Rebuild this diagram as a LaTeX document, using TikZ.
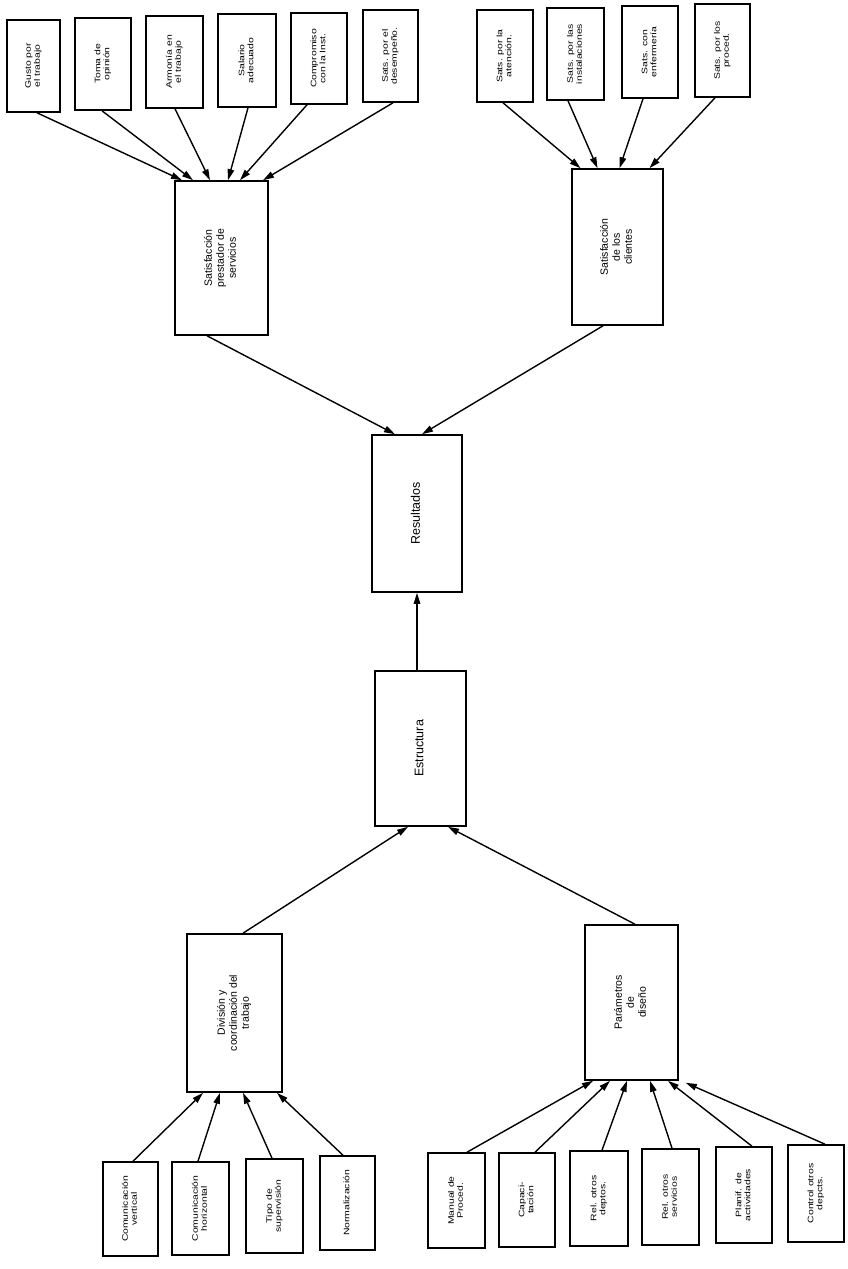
\documentclass[tikz,border=0pt]{standalone}
\usepackage{fontspec}
\setmainfont{Liberation Sans}
\usetikzlibrary{arrows.meta,calc}
% text that reads from bottom to top, optionally stretched along the reading direction
\newcommand\vtext[2][1]{\rotatebox{90}{\scalebox{#1}[1]{\begin{tabular}{@{}c@{}}#2\end{tabular}}}}
\tikzset{
  box/.style={draw, rectangle, line width=1.6pt, inner sep=0pt},
  small/.style={box, font=\fontsize{8}{9}\selectfont},
  big/.style={box, font=\fontsize{10.5}{12}\selectfont},
  huge/.style={box, font=\fontsize{12.5}{14}\selectfont},
  link/.style={line width=1.4pt, -{Triangle[length=11pt,width=6.5pt]}}
}
\begin{document}
\begin{tikzpicture}[x=1pt,y=-1pt]
\useasboundingbox (0,0) rectangle (847,1269);

% factors of staff satisfaction
\node[small, minimum width=53pt, minimum height=92pt] (g1) at (33.5,66) {\vtext[1.3]{Gusto por\\el trabajo}};
\node[small, minimum width=56pt, minimum height=92pt] (g2) at (103,64) {\vtext[1.3]{Toma de\\opinión}};
\node[small, minimum width=57pt, minimum height=92pt] (g3) at (174.5,62) {\vtext[1.3]{Armonía en\\el trabajo}};
\node[small, minimum width=58pt, minimum height=93pt] (g4) at (247,60.5) {\vtext[1.3]{Salario\\adecuado}};
\node[small, minimum width=56pt, minimum height=91pt] (g5) at (319,58.5) {\vtext[1.3]{Compromiso\\con la Inst.}};
\node[small, minimum width=55pt, minimum height=92pt] (g6) at (390.5,56) {\vtext[1.3]{Sats. por el\\desempeño.}};

% factors of client satisfaction
\node[small, minimum width=56pt, minimum height=92pt] (h1) at (505,56) {\vtext[1.3]{Sats. por la\\atención.}};
\node[small, minimum width=57pt, minimum height=92pt] (h2) at (575.5,54) {\vtext[1.3]{Sats. por las\\instalaciones}};
\node[small, minimum width=56pt, minimum height=92pt] (h3) at (650,52) {\vtext[1.3]{Sats. con\\enfermería}};
\node[small, minimum width=55pt, minimum height=93pt] (h4) at (722.5,50.5) {\vtext[1.3]{Sats. por los\\proced.}};

% main blocks
\node[big, minimum width=93pt, minimum height=154pt] (sp) at (221.5,258) {\vtext{Satisfacción\\prestador de\\servicios}};
\node[big, minimum width=91pt, minimum height=156pt] (sc) at (617.5,247) {\vtext{Satisfacción\\de los\\clientes}};
\node[huge, minimum width=90pt, minimum height=157pt] (res) at (417,513.5) {\vtext{Resultados}};
\node[huge, minimum width=91pt, minimum height=155pt] (est) at (420.5,748.5) {\vtext{Estructura}};
\node[big, minimum width=95pt, minimum height=158pt] (div) at (234.5,1013) {\vtext{División y\\coordinación del\\trabajo}};
\node[big, minimum width=93pt, minimum height=155pt] (par) at (631.5,1002.5) {\vtext{Parámetros\\de\\diseño}};

% factors of work division
\node[small, minimum width=55pt, minimum height=94pt] (b1) at (130.5,1209) {\vtext[1.3]{Comunicación\\vertical}};
\node[small, minimum width=57pt, minimum height=93pt] (b2) at (200.5,1208.5) {\vtext[1.3]{Comunicación\\horizontal}};
\node[small, minimum width=57pt, minimum height=94pt] (b3) at (274.5,1206) {\vtext[1.3]{Tipo de\\supervisión}};
\node[small, minimum width=55pt, minimum height=94pt] (b4) at (347.5,1203) {\vtext[1.3]{Normalización}};

% design parameters
\node[small, minimum width=57pt, minimum height=95pt] (c1) at (456.5,1200.5) {\vtext[1.3]{Manual de\\Proced.}};
\node[small, minimum width=56pt, minimum height=94pt] (c2) at (527,1200) {\vtext[1.3]{Capaci-\\tación}};
\node[small, minimum width=58pt, minimum height=95pt] (c3) at (599,1198.5) {\vtext[1.3]{Rel. otros\\deptos.}};
\node[small, minimum width=57pt, minimum height=96pt] (c4) at (670.5,1197) {\vtext[1.3]{Rel. otros\\servicios}};
\node[small, minimum width=56pt, minimum height=96pt] (c5) at (744,1195) {\vtext[1.3]{Planif. de\\actividades}};
\node[small, minimum width=56pt, minimum height=97pt] (c6) at (816,1193.5) {\vtext[1.3]{Control otros\\depcts.}};

% into staff satisfaction
\draw[link] ($(g1.south)+(3.5,0)$) -- ($(sp.north)+(-39.5,0)$);
\draw[link] ($(g2.south)+(-1,0)$) -- ($(sp.north)+(-28.5,0)$);
\draw[link] ($(g3.south)+(0.5,0)$) -- ($(sp.north)+(-11.5,0)$);
\draw[link] ($(g4.south)+(1,0)$) -- ($(sp.north)+(6.5,0)$);
\draw[link] ($(g5.south)+(-12,0)$) -- ($(sp.north)+(18.5,0)$);
\draw[link] ($(g6.south)+(2.5,0)$) -- ($(sp.north)+(41.5,0)$);

% into client satisfaction
\draw[link] ($(h1.south)+(-2,0)$) -- ($(sc.north)+(-37,0)$);
\draw[link] ($(h2.south)+(-7.5,0)$) -- ($(sc.north)+(-20,0)$);
\draw[link] ($(h3.south)+(-7,0)$) -- ($(sc.north)+(2,0)$);
\draw[link] ($(h4.south)+(-7.5,0)$) -- ($(sc.north)+(32,0)$);

% into results
\draw[link] ($(sp.south)+(-14.5,0)$) -- ($(res.north)+(-22,0)$);
\draw[link] ($(sc.south)+(-14.5,0)$) -- ($(res.north)+(5,0)$);
\draw[link] ($(est.north)+(-3.5,0)$) -- (res.south);

% into structure
\draw[link] ($(div.north)+(8.5,0)$) -- ($(est.south)+(-12.5,0)$);
\draw[link] ($(par.north)+(3.5,0)$) -- ($(est.south)+(27.5,0)$);

% into work division
\draw[link] ($(b1.north)+(2.5,0)$) -- ($(div.south)+(-31.5,0)$);
\draw[link] ($(b2.north)+(-2.5,0)$) -- ($(div.south)+(-14.5,0)$);
\draw[link] ($(b3.north)+(-2.5,0)$) -- ($(div.south)+(8.5,0)$);
\draw[link] ($(b4.north)+(-4.5,0)$) -- ($(div.south)+(42.5,0)$);

% into design parameters
\draw[link] ($(c1.north)+(10.5,0)$) -- ($(par.south)+(-38.5,0)$);
\draw[link] ($(c2.north)+(8,0)$) -- ($(par.south)+(-21.5,0)$);
\draw[link] ($(c3.north)+(3,0)$) -- ($(par.south)+(-4.5,0)$);
\draw[link] ($(c4.north)+(1.5,0)$) -- ($(par.south)+(18.5,0)$);
\draw[link] ($(c5.north)+(8,0)$) -- ($(par.south)+(36.5,0)$);
\draw[link] ($(c6.north)+(9,0)$) -- ($(par.south east)+(7,2)$);
\end{tikzpicture}
\end{document}
